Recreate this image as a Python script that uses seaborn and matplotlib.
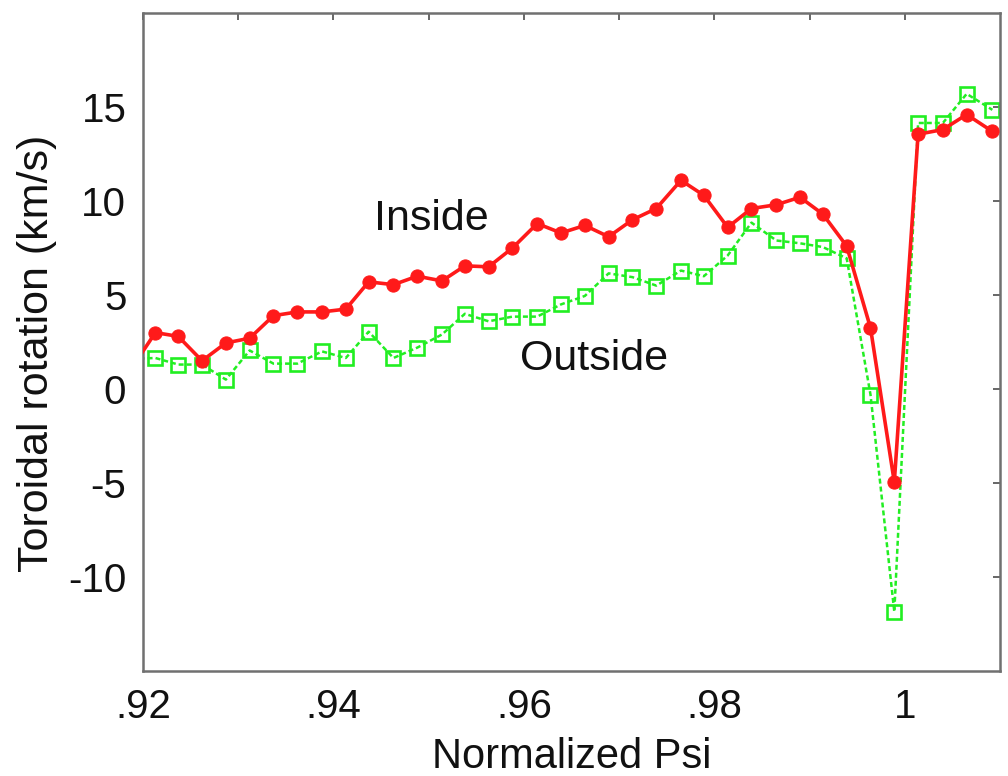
import numpy as np
import pandas as pd
import matplotlib
matplotlib.use("Agg")
import matplotlib.pyplot as plt
import seaborn as sns

# ---- data ----
psi = [0.9188, 0.9213, 0.9237, 0.9262, 0.9287, 0.9312, 0.9337, 0.9362, 0.9388,
       0.9413, 0.9437, 0.9463, 0.9488, 0.9514, 0.9538, 0.9563, 0.9588, 0.9614,
       0.9639, 0.9664, 0.9689, 0.9714, 0.9739, 0.9765, 0.9789, 0.9814, 0.9839,
       0.9865, 0.9890, 0.9914, 0.9939, 0.9964, 0.9989, 1.0014, 1.0040, 1.0065,
       1.0092]
inside = [1.1, 3.0, 2.8, 1.5, 2.45, 2.7, 3.9, 4.1, 4.1, 4.25, 5.7, 5.55, 6.0,
          5.75, 6.55, 6.5, 7.5, 8.8, 8.3, 8.7, 8.1, 9.0, 9.6, 11.1, 10.3, 8.6,
          9.6, 9.8, 10.2, 9.3, 7.6, 3.25, -4.95, 13.55, 13.8, 14.6, 13.7]
outside = [1.6, 1.65, 1.3, 1.3, 0.5, 2.05, 1.35, 1.35, 2.0, 1.65, 3.05, 1.65,
           2.2, 2.9, 4.0, 3.6, 3.85, 3.85, 4.5, 4.95, 6.15, 5.95, 5.5, 6.3, 6.0,
           7.1, 8.85, 7.9, 7.75, 7.55, 6.95, -0.3, -11.85, 14.15, 14.15, 15.7,
           14.85]

xticks = [0.92, 0.93, 0.94, 0.95, 0.96, 0.97, 0.98, 0.99, 1.00]
xticklabels = [".92", "", ".94", "", ".96", "", ".98", "", "1"]
yticks = [-10, -5, 0, 5, 10, 15]
yticklabels = ["-10", "-5", "0", "5", "10", "15"]

df = pd.DataFrame({"psi": psi, "inside": inside, "outside": outside})

sns.set_style("white")
plt.rcParams["font.family"] = ["Liberation Sans", "DejaVu Sans"]

fig = plt.figure(figsize=(10.08, 7.76), dpi=100)
ax = fig.add_axes([143 / 1008, 1 - 671 / 776, 857 / 1008, 658 / 776])

red = "#ff1a1a"
green = "#22ee22"

sns.lineplot(data=df, x="psi", y="outside", ax=ax, color=green,
             linestyle=(0, (2.0, 1.2)), linewidth=1.8, marker="s",
             markersize=10.5, markerfacecolor="none", markeredgecolor=green,
             markeredgewidth=1.9, zorder=2)
sns.lineplot(data=df, x="psi", y="inside", ax=ax, color=red,
             linewidth=2.6, marker="o", markersize=9.5,
             markerfacecolor=red, markeredgecolor=red, zorder=3)

ax.set_xlim(0.92, 1.01)
ax.set_ylim(-15, 20)
ax.set_xticks(xticks)
ax.set_xticklabels(xticklabels)
ax.set_yticks(yticks)
ax.set_yticklabels(yticklabels)

ax.tick_params(axis="both", direction="in", length=5, width=1.4,
               color="#666666", labelsize=29, top=True, right=True,
               labelcolor="#111111")
ax.tick_params(axis="x", pad=12)
ax.tick_params(axis="y", pad=12)

for s in ax.spines.values():
    s.set_visible(True)
    s.set_color("#707070")
    s.set_linewidth(1.8)

ax.set_xlabel("Normalized Psi", fontsize=30, color="#111111")
ax.set_ylabel("Toroidal rotation (km/s)", fontsize=31, color="#111111")
ax.xaxis.set_label_coords(0.5, -0.100)
ax.yaxis.set_label_coords(-0.100, 0.483)

ax.text(0.95026, 8.46, "Inside", fontsize=31, ha="center", va="baseline",
        color="#111111")
ax.text(0.96732, 1.01, "Outside", fontsize=31, ha="center", va="baseline",
        color="#111111")

fig.savefig("out.png", dpi=100)
